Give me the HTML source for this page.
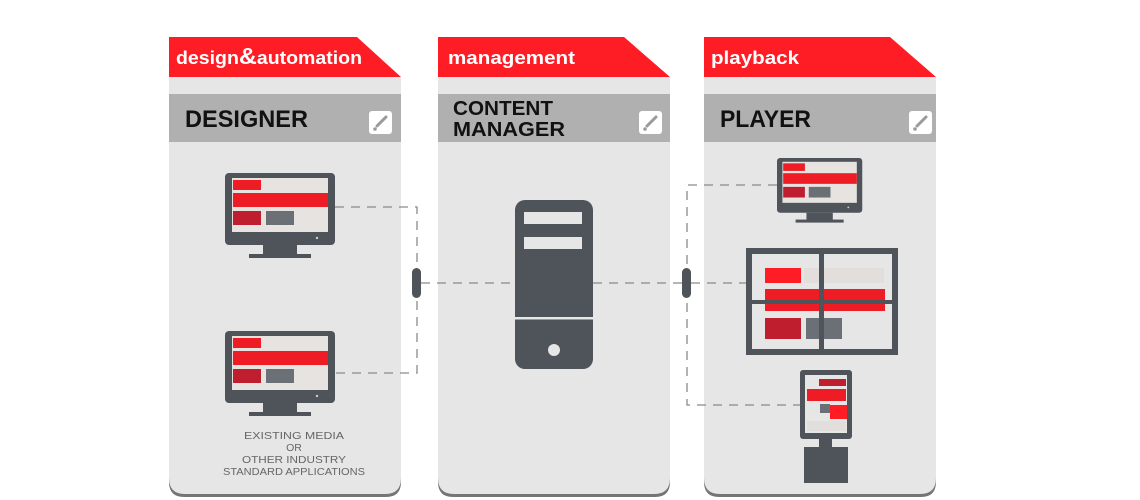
<!DOCTYPE html>
<html><head><meta charset="utf-8"><style>
html,body{margin:0;padding:0;background:#fff;width:1140px;height:500px;overflow:hidden}
svg{display:block}
text{font-family:"Liberation Sans",sans-serif}
</style></head><body>
<svg width="1140" height="500" viewBox="0 0 1140 500" xmlns="http://www.w3.org/2000/svg">
<defs>
<g id="panelbody">
  <path d="M0 77 H232 V482 Q232 497 217 497 H15 Q0 497 0 482 Z" fill="#757575"/>
  <path d="M0 77 H232 V478 Q232 494 216 494 H16 Q0 494 0 478 Z" fill="#e6e6e6"/>
  <rect x="0" y="94" width="232" height="48" fill="#b0b0b0"/>
</g>
<g id="edit">
  <rect x="0" y="0" width="23" height="23" rx="3" fill="#fff"/>
  <line x1="8" y1="15" x2="17" y2="6" stroke="#9a9a9a" stroke-width="3" stroke-linecap="round"/>
  <circle cx="6" cy="18" r="1.8" fill="#9a9a9a"/>
</g>
<g id="mon">
  <rect x="0" y="0" width="110" height="72" rx="4" fill="#4f545a"/>
  <rect x="7" y="5" width="96" height="54" fill="#e6e3e1"/>
  <rect x="8" y="7" width="28" height="10" fill="#ee1c25"/>
  <rect x="8" y="20" width="95" height="14" fill="#ee1c25"/>
  <rect x="8" y="38" width="28" height="14" fill="#be1e2d"/>
  <rect x="41" y="38" width="28" height="14" fill="#6b7077"/>
  <circle cx="92" cy="65" r="1.2" fill="#ccc"/>
  <rect x="38" y="72" width="34" height="10" fill="#4f545a"/>
  <rect x="24" y="81" width="62" height="4" fill="#4f545a"/>
</g>
</defs>

<!-- panel 1 -->
<g transform="translate(169,0)">
  <use href="#panelbody"/>
  <path d="M0 37 H188 L232 77 H0 Z" fill="#fe1d25"/>
  <use href="#edit" x="200" y="111"/>
</g>
<text x="176" y="64" fill="#fff" font-size="18" font-weight="bold" textLength="186" lengthAdjust="spacingAndGlyphs">design<tspan font-size="23">&amp;</tspan>automation</text>
<text x="185" y="127" fill="#111" font-size="24" font-weight="bold" textLength="123" lengthAdjust="spacingAndGlyphs">DESIGNER</text>

<!-- panel 2 -->
<g transform="translate(438,0)">
  <use href="#panelbody"/>
  <path d="M0 37 H186 L232 77 H0 Z" fill="#fe1d25"/>
  <use href="#edit" x="201" y="111"/>
</g>
<text x="448" y="64" fill="#fff" font-size="18" font-weight="bold" textLength="127" lengthAdjust="spacingAndGlyphs">management</text>
<text x="453" y="115" fill="#111" font-size="20" font-weight="bold" textLength="100" lengthAdjust="spacingAndGlyphs">CONTENT</text>
<text x="453" y="136" fill="#111" font-size="20" font-weight="bold" textLength="112" lengthAdjust="spacingAndGlyphs">MANAGER</text>

<!-- panel 3 -->
<g transform="translate(704,0)">
  <use href="#panelbody"/>
  <path d="M0 37 H186 L232 77 H0 Z" fill="#fe1d25"/>
  <use href="#edit" x="205" y="111"/>
</g>
<text x="711" y="64" fill="#fff" font-size="18" font-weight="bold" textLength="88" lengthAdjust="spacingAndGlyphs">playback</text>
<text x="720" y="127" fill="#111" font-size="24" font-weight="bold" textLength="91" lengthAdjust="spacingAndGlyphs">PLAYER</text>

<!-- connectors -->
<g stroke="#8a8a8a" stroke-width="1.3" stroke-dasharray="9,7" fill="none">
  <path d="M335 207 H417 V373 H335"/>
  <path d="M421 283 H515"/>
  <path d="M593 283 H683"/>
  <path d="M777 185 H687 V405 H800"/>
  <path d="M691 283 H746"/>
</g>

<!-- designer monitors -->
<use href="#mon" x="225" y="173"/>
<use href="#mon" x="225" y="331"/>
<g fill="#666" font-size="10.5" text-anchor="middle">
  <text x="294" y="439" textLength="100" lengthAdjust="spacingAndGlyphs">EXISTING MEDIA</text>
  <text x="294" y="451">OR</text>
  <text x="294" y="463" textLength="104" lengthAdjust="spacingAndGlyphs">OTHER INDUSTRY</text>
  <text x="294" y="475" textLength="142" lengthAdjust="spacingAndGlyphs">STANDARD APPLICATIONS</text>
</g>

<!-- server -->
<rect x="515" y="200" width="78" height="169" rx="10" fill="#4f545a"/>
<rect x="524" y="212" width="58" height="12" fill="#e6e6e6"/>
<rect x="524" y="237" width="58" height="12" fill="#e6e6e6"/>
<rect x="515" y="317" width="78" height="2.5" fill="#e6e6e6"/>
<circle cx="554" cy="350" r="6" fill="#e6e6e6"/>

<!-- pills -->
<rect x="412" y="268" width="9" height="30" rx="4.5" fill="#4f545a"/>
<rect x="682" y="268" width="9" height="30" rx="4.5" fill="#4f545a"/>

<!-- player monitor -->
<g transform="translate(777,158) scale(0.775,0.76)"><use href="#mon"/></g>

<!-- video wall -->
<rect x="746" y="248" width="152" height="107" fill="#4f545a"/>
<rect x="752" y="254" width="140" height="95" fill="#e6e6e6"/>
<rect x="765" y="268" width="36" height="15" fill="#fe1d25"/>
<rect x="804" y="268" width="80" height="15" fill="#e1dedc"/>
<rect x="765" y="289" width="120" height="22" fill="#ee1c25"/>
<rect x="765" y="318" width="36" height="21" fill="#be1e2d"/>
<rect x="806" y="318" width="36" height="21" fill="#6b7077"/>
<rect x="819" y="248" width="5" height="107" fill="#4f545a"/>
<rect x="746" y="300" width="152" height="4" fill="#4f545a"/>

<!-- kiosk -->
<rect x="800" y="370" width="52" height="69" rx="3" fill="#4f545a"/>
<rect x="805" y="375" width="42" height="58" fill="#e6e6e6"/>
<rect x="819" y="379" width="27" height="7" fill="#be1e2d"/>
<rect x="807" y="389" width="39" height="12" fill="#ee1c25"/>
<rect x="820" y="404" width="10" height="9" fill="#6b7077"/>
<rect x="830" y="405" width="17" height="14" fill="#fe1d25"/>
<rect x="807" y="421" width="39" height="10" fill="#e1dedc"/>
<rect x="819" y="439" width="13" height="9" fill="#4f545a"/>
<rect x="804" y="447" width="44" height="36" fill="#4f545a"/>
</svg>
</body></html>
